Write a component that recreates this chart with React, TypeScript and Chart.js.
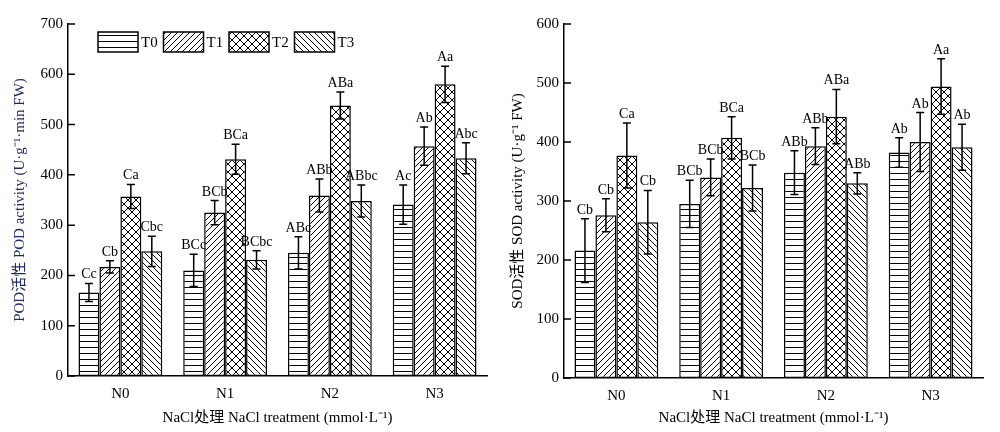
import React, { useEffect, useRef } from 'react';
import { Chart, registerables } from 'chart.js';

Chart.register(...registerables);

const categories = ['N0', 'N1', 'N2', 'N3'];
const treatments = ['T0', 'T1', 'T2', 'T3'];

// POD activity
const podT0 = [166, 210, 245, 341];
const podT1 = [217, 325, 359, 457];
const podT2 = [357, 431, 538, 580];
const podT3 = [248, 231, 348, 433];
const podErrT0 = [18, 32, 32, 39];
const podErrT1 = [12, 24, 33, 38];
const podErrT2 = [24, 30, 27, 36];
const podErrT3 = [30, 18, 32, 31];
const podSigT0 = ['Cc', 'BCc', 'ABc', 'Ac'];
const podSigT1 = ['Cb', 'BCb', 'ABb', 'Ab'];
const podSigT2 = ['Ca', 'BCa', 'ABa', 'Aa'];
const podSigT3 = ['Cbc', 'BCbc', 'ABbc', 'Abc'];
const podMax = 700;

// SOD activity
const sodT0 = [216, 295, 348, 382];
const sodT1 = [276, 340, 393, 400];
const sodT2 = [377, 407, 443, 494];
const sodT3 = [264, 322, 330, 391];
const sodErrT0 = [54, 40, 37, 25];
const sodErrT1 = [28, 31, 31, 50];
const sodErrT2 = [55, 36, 46, 47];
const sodErrT3 = [54, 39, 18, 39];
const sodSigT0 = ['Cb', 'BCb', 'ABb', 'Ab'];
const sodSigT1 = ['Cb', 'BCb', 'ABb', 'Ab'];
const sodSigT2 = ['Ca', 'BCa', 'ABa', 'Aa'];
const sodSigT3 = ['Cb', 'BCb', 'ABb', 'Ab'];
const sodMax = 600;

const yStep = 100;
const podTitle = 'POD活性 POD activity (U·g⁻¹·min FW)';
const sodTitle = 'SOD活性 SOD activity (U·g⁻¹ FW)';
const xTitle = 'NaCl处理 NaCl treatment (mmol·L⁻¹)';

const FAMILY = "'Liberation Serif', 'Times New Roman', 'Noto Sans CJK SC', serif";

function makePattern(kind: string): CanvasPattern {
  const c = document.createElement('canvas');
  const ctx = c.getContext('2d')!;
  let s = 6;
  if (kind === 'x') s = 8;
  if (kind === 'h') {
    c.width = 4;
    c.height = 6;
    ctx.fillStyle = '#fff';
    ctx.fillRect(0, 0, 4, 6);
    ctx.fillStyle = '#000';
    ctx.fillRect(0, 5, 4, 1);
    return ctx.createPattern(c, 'repeat')!;
  }
  c.width = s;
  c.height = s;
  ctx.fillStyle = '#fff';
  ctx.fillRect(0, 0, s, s);
  ctx.strokeStyle = '#000';
  ctx.lineWidth = 1;
  ctx.beginPath();
  for (const k of [-s, 0, s]) {
    if (kind === 'f' || kind === 'x') {
      ctx.moveTo(k, s);
      ctx.lineTo(k + s, 0);
    }
    if (kind === 'b' || kind === 'x') {
      ctx.moveTo(k, 0);
      ctx.lineTo(k + s, s);
    }
  }
  ctx.stroke();
  return ctx.createPattern(c, 'repeat')!;
}

const errorPlugin = {
  id: 'errorBars',
  afterDatasetsDraw(chart: any) {
    const ctx = chart.ctx;
    const y = chart.scales.y;
    ctx.save();
    chart.data.datasets.forEach((ds: any, i: number) => {
      const meta = chart.getDatasetMeta(i);
      meta.data.forEach((bar: any, j: number) => {
        const v = ds.data[j];
        const e = ds.errors[j];
        const x = bar.x;
        const yt = y.getPixelForValue(v + e);
        const yb = y.getPixelForValue(v - e);
        ctx.strokeStyle = '#000';
        ctx.lineWidth = 1.5;
        ctx.beginPath();
        ctx.moveTo(x, yt);
        ctx.lineTo(x, yb);
        ctx.moveTo(x - 4, yt);
        ctx.lineTo(x + 4, yt);
        ctx.moveTo(x - 4, yb);
        ctx.lineTo(x + 4, yb);
        ctx.stroke();
        ctx.fillStyle = '#000';
        ctx.font = `14px ${FAMILY}`;
        ctx.textAlign = 'center';
        ctx.textBaseline = 'alphabetic';
        ctx.fillText(ds.sig[j], x, yt - 5);
      });
    });
    ctx.restore();
  },
};

const tickPlugin = {
  id: 'innerTicks',
  afterDraw(chart: any) {
    const ctx = chart.ctx;
    const y = chart.scales.y;
    const left = chart.chartArea.left;
    ctx.save();
    ctx.strokeStyle = '#000';
    ctx.lineWidth = 1.5;
    ctx.beginPath();
    y.ticks.forEach((t: any) => {
      const py = y.getPixelForValue(t.value);
      ctx.moveTo(left, py);
      ctx.lineTo(left + 7, py);
    });
    ctx.stroke();
    ctx.restore();
  },
};

const legendPlugin = {
  id: 'patternLegend',
  afterDraw(chart: any, _args: any, opts: any) {
    if (!opts || !opts.show) return;
    const ctx = chart.ctx;
    const x0 = chart.chartArea.left + 30;
    const top = 32;
    const bw = 40;
    const bh = 20;
    const pitch = 65.5;
    ctx.save();
    chart.data.datasets.forEach((ds: any, i: number) => {
      const bx = x0 + i * pitch;
      ctx.fillStyle = ds.backgroundColor;
      ctx.fillRect(bx, top, bw, bh);
      ctx.strokeStyle = '#000';
      ctx.lineWidth = 1.5;
      ctx.strokeRect(bx, top, bw, bh);
      ctx.fillStyle = '#000';
      ctx.font = `15px ${FAMILY}`;
      ctx.textAlign = 'left';
      ctx.textBaseline = 'middle';
      ctx.fillText(ds.label, bx + bw + 3, top + bh / 2 + 1);
    });
    ctx.restore();
  },
};

function buildConfig(opts: {
  values: number[][];
  errors: number[][];
  sigs: string[][];
  max: number;
  yTitle: string;
  yTitleColor: string;
  axisWidth: number;
  padRight: number;
  xHeight: number;
  yTitlePad: number;
  showLegend: boolean;
}): any {
  const patterns = [makePattern('h'), makePattern('f'), makePattern('x'), makePattern('b')];
  return {
    type: 'bar',
    data: {
      labels: categories,
      datasets: treatments.map((t, i) => ({
        label: t,
        data: opts.values[i],
        errors: opts.errors[i],
        sig: opts.sigs[i],
        backgroundColor: patterns[i],
        borderColor: '#000',
        borderWidth: 1.5,
        borderSkipped: false,
        categoryPercentage: 0.8,
        barPercentage: 1.0,
      })),
    },
    options: {
      animation: false,
      responsive: false,
      devicePixelRatio: 1,
      layout: { padding: { top: 24, right: opts.padRight, bottom: 0, left: 0 } },
      plugins: {
        legend: { display: false },
        tooltip: { enabled: false },
        patternLegend: { show: opts.showLegend },
      },
      scales: {
        x: {
          type: 'category',
          grid: { display: false, drawTicks: false },
          border: { display: true, color: '#000', width: 1.5 },
          ticks: { color: '#000', font: { family: FAMILY, size: 15 }, padding: 9 },
          title: {
            display: true,
            text: xTitle,
            color: '#000',
            font: { family: FAMILY, size: 15 },
            padding: { top: 0, bottom: 5 },
          },
          afterFit: (s: any) => {
            s.height = opts.xHeight;
          },
        },
        y: {
          min: 0,
          max: opts.max,
          grid: { display: false, drawTicks: false },
          border: { display: true, color: '#000', width: 1.5 },
          ticks: { stepSize: yStep, color: '#000', font: { family: FAMILY, size: 15 }, padding: 5 },
          title: {
            display: true,
            text: opts.yTitle,
            color: opts.yTitleColor,
            font: { family: FAMILY, size: 15 },
            padding: { top: opts.yTitlePad, bottom: 0 },
          },
          afterFit: (s: any) => {
            s.width = opts.axisWidth;
          },
        },
      },
    },
    plugins: [errorPlugin, tickPlugin, legendPlugin],
  };
}

export default function App() {
  const leftRef = useRef<HTMLCanvasElement | null>(null);
  const rightRef = useRef<HTMLCanvasElement | null>(null);

  useEffect(() => {
    document.body.style.margin = '0';
    const left = new Chart(
      leftRef.current!,
      buildConfig({
        values: [podT0, podT1, podT2, podT3],
        errors: [podErrT0, podErrT1, podErrT2, podErrT3],
        sigs: [podSigT0, podSigT1, podSigT2, podSigT3],
        max: podMax,
        yTitle: podTitle,
        yTitleColor: '#1f2a66',
        axisWidth: 68,
        padRight: 13,
        xHeight: 56,
        yTitlePad: 11,
        showLegend: true,
      })
    );
    const right = new Chart(
      rightRef.current!,
      buildConfig({
        values: [sodT0, sodT1, sodT2, sodT3],
        errors: [sodErrT0, sodErrT1, sodErrT2, sodErrT3],
        sigs: [sodSigT0, sodSigT1, sodSigT2, sodSigT3],
        max: sodMax,
        yTitle: sodTitle,
        yTitleColor: '#000',
        axisWidth: 64,
        padRight: 17,
        xHeight: 54,
        yTitlePad: 9,
        showLegend: false,
      })
    );
    return () => {
      left.destroy();
      right.destroy();
    };
  }, []);

  return (
    <div style={{ position: 'relative', width: 1000, height: 432, background: '#fff', overflow: 'hidden' }}>
      <canvas ref={leftRef} width={500} height={432} style={{ position: 'absolute', left: 0, top: 0 }} />
      <canvas ref={rightRef} width={500} height={432} style={{ position: 'absolute', left: 500, top: 0 }} />
    </div>
  );
}
